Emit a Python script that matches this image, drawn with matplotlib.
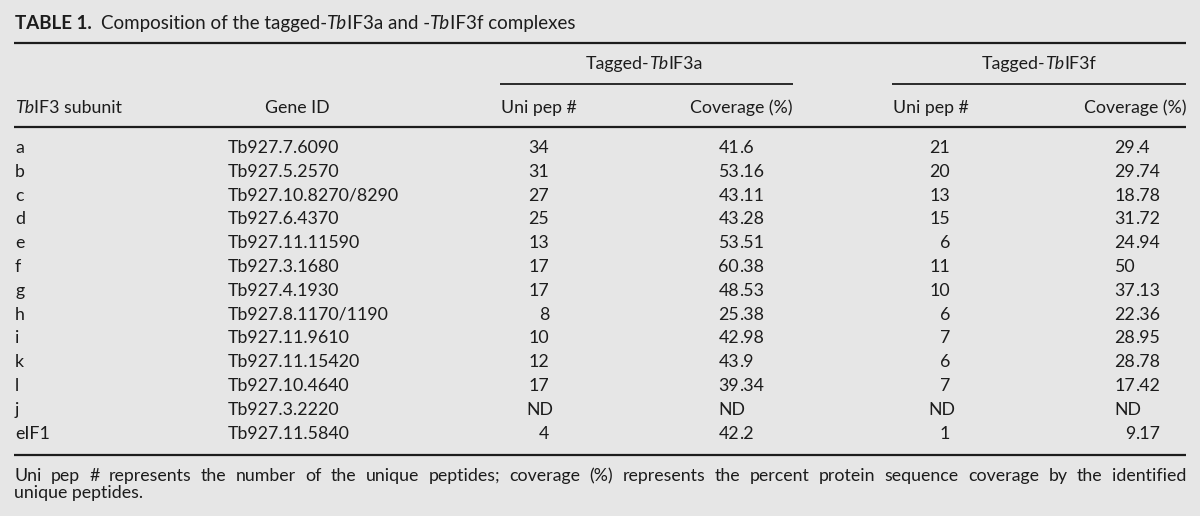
import matplotlib
matplotlib.use("Agg")
from matplotlib import pyplot as plt

BG = "#e6e6e6"
INK = "#1c1c1c"
FONT = "Lato"
SIZE = 12.8

subunits = ["a", "b", "c", "d", "e", "f", "g", "h", "i", "k", "l", "j", "eIF1"]
gene_ids = [
    "Tb927.7.6090", "Tb927.5.2570", "Tb927.10.8270/8290", "Tb927.6.4370",
    "Tb927.11.11590", "Tb927.3.1680", "Tb927.4.1930", "Tb927.8.1170/1190",
    "Tb927.11.9610", "Tb927.11.15420", "Tb927.10.4640", "Tb927.3.2220",
    "Tb927.11.5840",
]
a_pep = ["34", "31", "27", "25", "13", "17", "17", "8", "10", "12", "17", "ND", "4"]
a_cov = ["41.6", "53.16", "43.11", "43.28", "53.51", "60.38", "48.53", "25.38",
         "42.98", "43.9", "39.34", "ND", "42.2"]
f_pep = ["21", "20", "13", "15", "6", "11", "10", "6", "7", "6", "7", "ND", "1"]
f_cov = ["29.4", "29.74", "18.78", "31.72", "24.94", "50", "37.13", "22.36",
         "28.95", "28.78", "17.42", "ND", "9.17"]

footnote = ("Uni pep # represents the number of the unique peptides; coverage (%) "
            "represents the percent protein sequence coverage by the identified")
footnote_end = "unique peptides."

fig = plt.figure(figsize=(12, 5.16), dpi=100, facecolor=BG)
ax = fig.add_axes([0, 0, 1, 1])
ax.set_xlim(0, 1200)
ax.set_ylim(516, 0)
ax.axis("off")
renderer = fig.canvas.get_renderer()


def width(t):
    return t.get_window_extent(renderer).width


def put(x, y, s, ha="left", style="normal", weight="normal", size=SIZE):
    return ax.text(x, y, s, fontsize=size, family=FONT, fontstyle=style,
                   fontweight=weight, ha=ha, va="baseline", color=INK)


def put_runs(x, y, parts, ha="left", size=SIZE):
    # parts: (text, style, gap before in px)
    drawn = []
    for s, st, gap in parts:
        t = put(0, y, s, style="italic" if st == "i" else "normal",
                weight="bold" if st == "b" else "normal", size=size)
        drawn.append((t, gap))
    total = sum(width(t) + g for t, g in drawn)
    pos = x - total / 2 if ha == "center" else (x - total if ha == "right" else x)
    for t, g in drawn:
        pos += g
        t.set_x(pos)
        pos += width(t)


def put_decimal(x, y, s):
    if s == "ND":
        put(x - 21, y, s)
        return
    whole, _, frac = s.partition(".")
    put(x, y, whole, ha="right")
    if frac:
        put(x, y, "." + frac)


LEFT, RIGHT = 14, 1186

# title
put_runs(LEFT + 1, 29, [("TABLE 1.", "b", 0), ("Composition of the tagged-", "r", 9),
                        ("Tb", "i", 0), ("IF3a and -", "r", 0), ("Tb", "i", 0),
                        ("IF3f complexes", "r", 0)], size=13.5)

# rules
ax.hlines(43, LEFT, RIGHT, color=INK, lw=1.6)
ax.hlines(84, 500, 793, color=INK, lw=1.3)
ax.hlines(84, 892, RIGHT, color=INK, lw=1.3)
ax.hlines(127, LEFT, RIGHT, color=INK, lw=1.6)
ax.hlines(455, LEFT, RIGHT, color=INK, lw=1.6)

# group headers
put_runs(644, 69, [("Tagged-", "r", 0), ("Tb", "i", 0), ("IF3a", "r", 0)], ha="center")
put_runs(1039, 69, [("Tagged-", "r", 0), ("Tb", "i", 0), ("IF3f", "r", 0)], ha="center")

# column headers
put_runs(LEFT + 1, 113, [("Tb", "i", 0), ("IF3 subunit", "r", 0)])
put(297, 113, "Gene ID", ha="center")
put(501, 113, "Uni pep #")
put(793, 113, "Coverage (%)", ha="right")
put(893, 113, "Uni pep #")
put(RIGHT, 113, "Coverage (%)", ha="right")

# body
row0, step = 153, 23.8
for i in range(len(subunits)):
    y = row0 + i * step
    put(LEFT + 1, y, subunits[i])
    put(228, y, gene_ids[i])
    if a_pep[i] == "ND":
        put(540, y, "ND", ha="center")
    else:
        put(549, y, a_pep[i], ha="right")
    put_decimal(739, y, a_cov[i])
    if f_pep[i] == "ND":
        put(942, y, "ND", ha="center")
    else:
        put(950, y, f_pep[i], ha="right")
    put_decimal(1135, y, f_cov[i])

# footnote, first line justified
words = footnote.split(" ")
wt = [put(0, 481, w) for w in words]
gap = (RIGHT - LEFT - sum(width(t) for t in wt)) / (len(wt) - 1)
pos = LEFT
for t in wt:
    t.set_x(pos)
    pos += width(t) + gap
put(LEFT, 498, footnote_end)

fig.savefig("out.png", dpi=100, facecolor=BG)
